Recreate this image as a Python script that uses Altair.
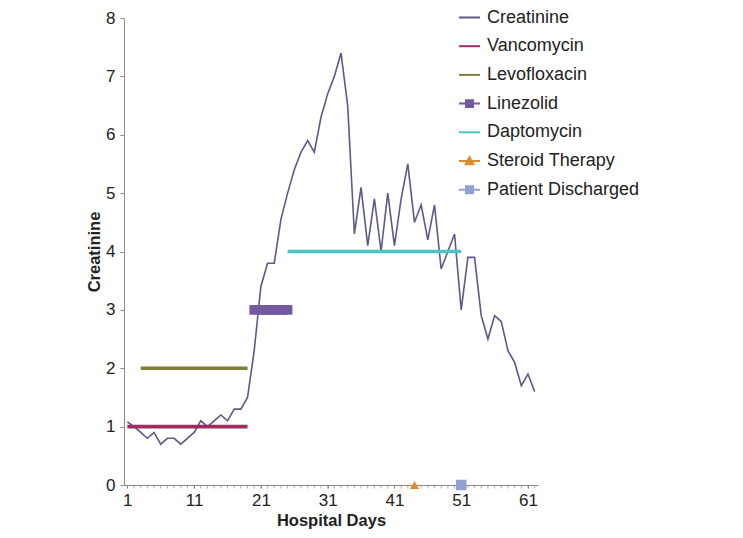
import altair as alt
import pandas as pd

# ---- data ----
days = list(range(1, 63))
creatinine = [1.08, 1.0, 0.9, 0.8, 0.9, 0.7, 0.8, 0.8, 0.7, 0.8,
              0.9, 1.1, 1.0, 1.1, 1.2, 1.1, 1.3, 1.3, 1.5, 2.3,
              3.4, 3.8, 3.8, 4.55, 5.0, 5.4, 5.7, 5.9, 5.7, 6.3,
              6.7, 7.0, 7.4, 6.5, 4.3, 5.1, 4.1, 4.9, 4.0, 5.0,
              4.1, 4.9, 5.5, 4.5, 4.8, 4.2, 4.8, 3.7, 4.0, 4.3,
              3.0, 3.9, 3.9, 2.9, 2.5, 2.9, 2.8, 2.3, 2.1, 1.7,
              1.9, 1.6]

series_names = ["Creatinine", "Vancomycin", "Levofloxacin", "Linezolid",
                "Daptomycin", "Steroid Therapy", "Patient Discharged"]
series_colors = ["#5a5a8c", "#9b2d5f", "#7f7f3a", "#7558a0",
                 "#4fc4c6", "#e0892f", "#8fa2d3"]

drug_names = ["Vancomycin", "Levofloxacin", "Daptomycin"]
drug_start = [1, 3, 25]
drug_end = [19, 19, 51]
drug_level = [1, 2, 4]

linezolid_days = [20, 21, 22, 23, 24, 25]
linezolid_level = 3

event_names = ["Steroid Therapy", "Patient Discharged"]
event_days = [44, 51]
event_level = [0, 0]

x_labels = [1, 11, 21, 31, 41, 51, 61]
y_ticks = [0, 1, 2, 3, 4, 5, 6, 7, 8]

# legend symbol shapes (line, line+square, line+triangle)
LINE = "M-1,0H1"
LINE_SQ = "M-1,0H1M-0.33,-0.33H0.33V0.33H-0.33Z"
LINE_TRI = "M-1,0H1M0,-0.36L0.36,0.3H-0.36Z"
legend_shapes = [LINE, LINE, LINE, LINE_SQ, LINE, LINE_TRI, LINE_SQ]

# ---- tables ----
creat_df = pd.DataFrame({"day": days, "value": creatinine, "series": "Creatinine"})
drug_df = pd.DataFrame({"series": drug_names, "start": drug_start,
                        "end": drug_end, "value": drug_level})
line_df = pd.DataFrame({"day": linezolid_days,
                        "value": [linezolid_level] * len(linezolid_days),
                        "series": "Linezolid"})
event_df = pd.DataFrame({"series": event_names, "day": event_days, "value": event_level})
tick_df = pd.DataFrame({"day": days, "value": [0] * len(days)})
legend_df = pd.DataFrame({"series": series_names})

FONT = "Liberation Sans"
AXIS_GREY = "#8c8c8c"
color_scale = alt.Scale(domain=series_names, range=series_colors)

x_enc = alt.X("day:Q",
              scale=alt.Scale(domain=[0.5, 62.5], nice=False, zero=False),
              axis=alt.Axis(title="Hospital Days", values=x_labels, format="d",
                            tickSize=3, labelPadding=4, titlePadding=4, grid=False))
y_enc = alt.Y("value:Q",
              scale=alt.Scale(domain=[0, 8], nice=False),
              axis=alt.Axis(title="Creatinine", values=y_ticks, format="d",
                            tickSize=4, labelPadding=5, titlePadding=3, grid=False))

creat = alt.Chart(creat_df).mark_line(strokeWidth=1.6).encode(
    x=x_enc, y=y_enc,
    color=alt.Color("series:N", scale=color_scale, legend=None))

# small day ticks under the x axis
day_ticks = alt.Chart(tick_df).mark_tick(
    orient="vertical", size=3, thickness=1, color=AXIS_GREY, yOffset=2
).encode(x="day:Q", y="value:Q")

drugs = alt.Chart(drug_df).mark_rule(strokeWidth=3.7).encode(
    x="start:Q", x2="end:Q", y="value:Q",
    color=alt.Color("series:N", scale=color_scale, legend=None))

linezolid_bar = alt.Chart(line_df).mark_line(strokeWidth=9.6).encode(
    x="day:Q", y="value:Q",
    color=alt.Color("series:N", scale=color_scale, legend=None))
linezolid = alt.Chart(line_df).mark_square(size=92, opacity=1).encode(
    x="day:Q", y="value:Q",
    color=alt.Color("series:N", scale=color_scale, legend=None))

steroid = alt.Chart(event_df).transform_filter(
    alt.datum.series == "Steroid Therapy"
).mark_point(shape="triangle-up", filled=True, size=85, opacity=1).encode(
    x="day:Q", y="value:Q",
    color=alt.Color("series:N", scale=color_scale, legend=None))

discharge = alt.Chart(event_df).transform_filter(
    alt.datum.series == "Patient Discharged"
).mark_point(shape="square", filled=True, size=110, opacity=1).encode(
    x="day:Q", y="value:Q",
    color=alt.Color("series:N", scale=color_scale, legend=None))

# legend: symbol colours come from the shared colour scale
sym_expr = alt.ExprRef(expr="scale('color', datum.value || datum.series)")
legend_layer = alt.Chart(legend_df).mark_point(
    filled=True, fill=sym_expr, stroke=sym_expr, strokeWidth=2
).encode(
    shape=alt.Shape("series:N", sort=series_names,
                    scale=alt.Scale(range=legend_shapes),
                    legend=alt.Legend(
                        title=None, orient="none", legendX=334, legendY=-12,
                        symbolSize=441, symbolStrokeWidth=2, symbolOpacity=1,
                        labelFont=FONT, labelFontSize=18, labelColor="#222",
                        labelOffset=6, rowPadding=7.7, labelLimit=400)),
    opacity=alt.value(0))

chart = alt.layer(creat, day_ticks, drugs, linezolid_bar, linezolid, steroid,
                  discharge, legend_layer).properties(
    width=414, height=467,
    autosize=alt.AutoSizeParams(type="none"),
    padding={"left": 116, "top": 10, "right": 197, "bottom": 45},
).configure(font=FONT).configure_view(stroke=None).configure_axis(
    domainColor=AXIS_GREY, tickColor=AXIS_GREY,
    labelFont=FONT, labelFontSize=17, labelColor="#222",
    titleFont=FONT, titleFontSize=16.5, titleFontWeight="bold", titleColor="#222",
)

chart.save("out.html", embed_options={"renderer": "svg", "actions": False})
